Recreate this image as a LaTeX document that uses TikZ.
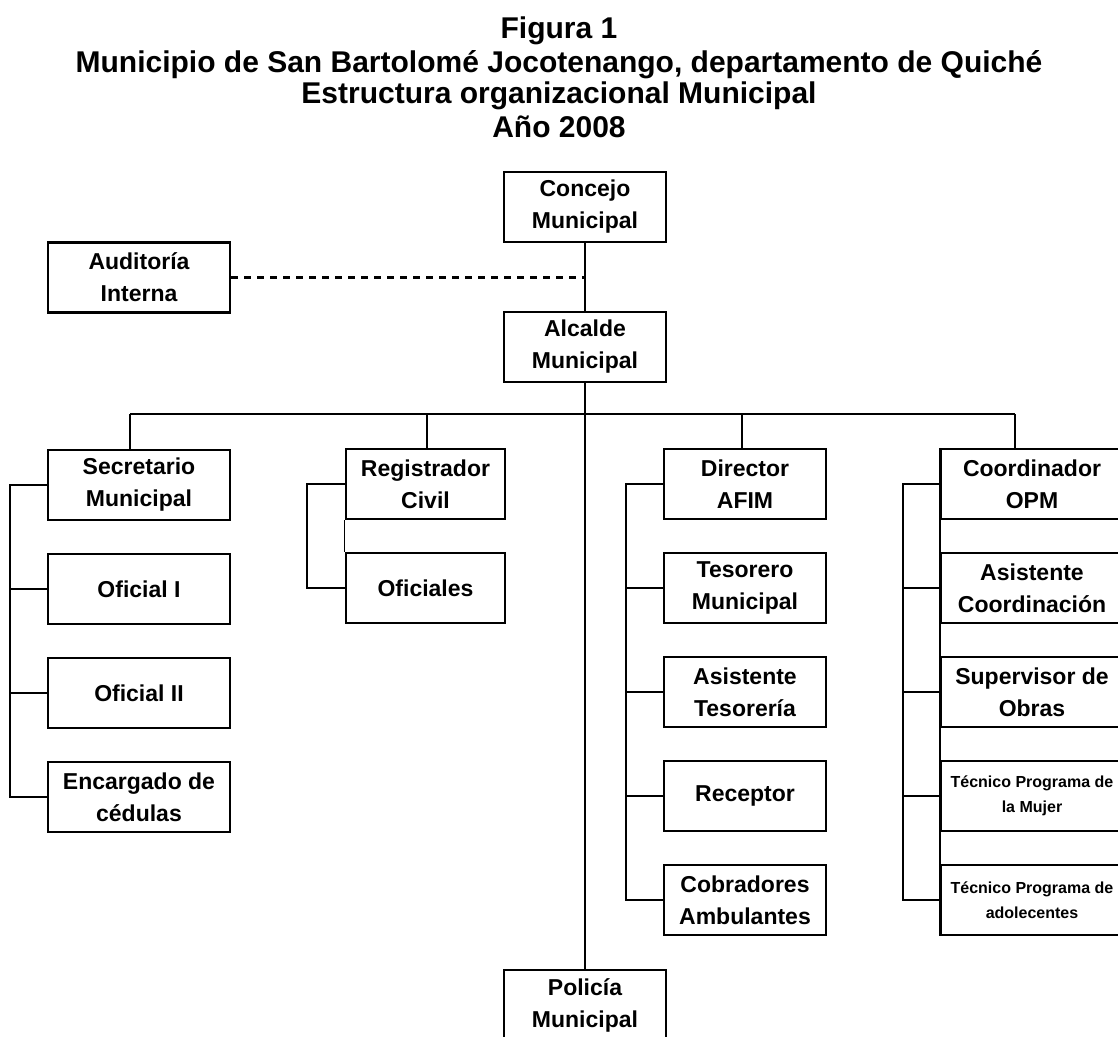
\documentclass[tikz,border=0pt]{standalone}
\usepackage{fontspec}
\setmainfont{Liberation Sans}
\begin{document}
\begin{tikzpicture}[x=1pt,y=-1pt,
  box/.style={draw,line width=2.2pt,minimum height=70pt,inner sep=0pt,align=center,
    font=\fontsize{23}{32}\selectfont\bfseries},
  wbox/.style={box,minimum width=182pt},
  nbox/.style={box,minimum width=162pt},
  rbox/.style={box,minimum width=159pt},
  small/.style={font=\fontsize{16}{25}\selectfont\bfseries},
  ttl/.style={anchor=base,inner sep=0pt,font=\fontsize{30}{33}\selectfont\bfseries},
  conn/.style={line width=1.2pt},
  dash line/.style={line width=2.4pt,dash pattern=on 7pt off 6pt}]
\useasboundingbox (0,0) rectangle (1118,1036);
\clip (0,0) rectangle (1118,1036);

% title
\node[ttl] (t1) at (559,38) {Figura 1};
\node[ttl] (t2) at (559,72) {Municipio de San Bartolomé Jocotenango, departamento de Quiché};
\node[ttl] (t3) at (559,103) {Estructura organizacional Municipal};
\node[ttl] (t4) at (559,137) {Año 2008};

% central column
\node[nbox] (conc) at (585,207) {Concejo\\Municipal};
\node[nbox] (alc) at (585,347) {Alcalde\\Municipal};
\node[nbox] (pol) at (585,1005) {Policía\\Municipal};
\node[wbox] (aud) at (139,277.5) {Auditoría\\Interna};

% Secretario column
\node[wbox] (sec) at (139,485) {Secretario\\Municipal};
\node[wbox] (of1) at (139,589) {Oficial I};
\node[wbox] (of2) at (139,693) {Oficial II};
\node[wbox] (enc) at (139,797) {Encargado de\\cédulas};

% Registrador column
\node[rbox] (reg) at (425.5,484) {Registrador\\Civil};
\node[rbox] (ofs) at (425.5,588) {Oficiales};

% Director column
\node[nbox] (dir) at (745,484) {Director\\AFIM};
\node[nbox] (tes) at (745,588) {Tesorero\\Municipal};
\node[nbox] (ast) at (745,692) {Asistente\\Tesorería};
\node[nbox] (rec) at (745,796) {Receptor};
\node[nbox] (cob) at (745,900) {Cobradores\\Ambulantes};

% Coordinador column
\node[wbox] (coo) at (1032,484) {Coordinador\\OPM};
\node[wbox] (asc) at (1032,588) {Asistente\\Coordinación};
\node[wbox] (sup) at (1032,692) {Supervisor de\\Obras};
\node[wbox,small] (tm) at (1032,796) {Técnico Programa de\\la Mujer};
\node[wbox,small] (ta) at (1032,900) {Técnico Programa de\\adolecentes};

% main vertical
\draw[conn] (conc.south) -- (alc.north);
\draw[conn] (alc.south) -- (pol.north);
\coordinate (dend) at (aud.east -| conc.south);
\draw[dash line] (aud.east) -- (dend);

% bus
\coordinate (bS) at (130,414);
\coordinate (bR) at (427,414);
\coordinate (bD) at (742,414);
\coordinate (bC) at (1015,414);
\draw[conn] (bS) -- (bC);
\draw[conn] (bS) -- (bS |- sec.north);
\draw[conn] (bR) -- (bR |- reg.north);
\draw[conn] (bD) -- (bD |- dir.north);
\draw[conn] (bC) -- (bC |- coo.north);

% side branches
\draw[conn] (sec.west) -- ++(-37,0) |- (enc.west);
\foreach \n in {of1,of2} \draw[conn] (\n.west) -- ++(-37,0);
\draw[conn] (reg.west) -- ++(-38,0) |- (ofs.west);
\draw[conn] (dir.west) -- ++(-37,0) |- (cob.west);
\foreach \n in {tes,ast,rec} \draw[conn] (\n.west) -- ++(-37,0);
\draw[conn] (coo.west) -- ++(-37,0) |- (ta.west);
\foreach \n in {asc,sup,tm} \draw[conn] (\n.west) -- ++(-37,0);

% continuous edges between stacked boxes
\draw[line width=2.2pt] (coo.north west) -- (ta.south west);
\draw[line width=1pt] (reg.south west) -- (ofs.north west);
\end{tikzpicture}
\end{document}
